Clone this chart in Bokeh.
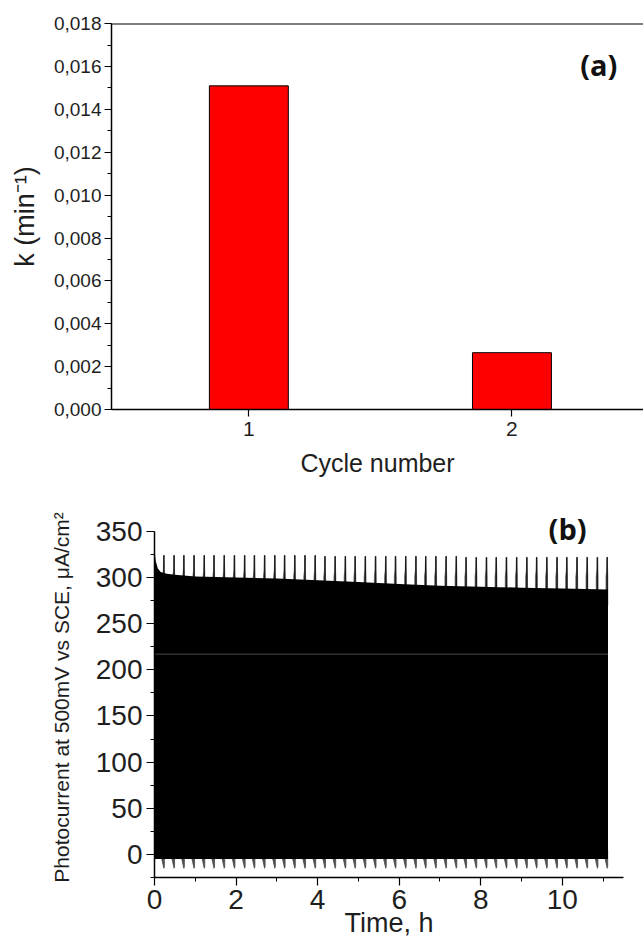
import numpy as np
from bokeh.plotting import figure
from bokeh.layouts import column, row
from bokeh.models import (SingleIntervalTicker, FixedTicker,
                          CustomJSTickFormatter, Span, Label, Range1d)
from bokeh.embed import file_html
from bokeh.resources import INLINE

# ---------------- data: panel (a) ----------------
cycles = [1, 2]
k_values = [0.0151, 0.00265]
a_y_max = 0.018

# ---------------- data: panel (b) ----------------
env_t = [0.0, 0.03, 0.08, 0.15, 0.3, 0.5, 1.0, 2.0, 3.0, 4.0, 5.0, 6.0, 7.0, 8.0, 9.0, 10.0, 11.12]
env_top = [330, 318, 310, 306, 304, 303, 301, 300, 299, 297, 295, 293, 291, 290, 289, 288, 287]
env_bottom = [-5, -5, -5, -5, -5, -5, -5, -5, -5, -5, -5, -5, -5, -5, -5, -5, -5]
spike_t = [0.23, 0.48, 0.72, 0.97, 1.22, 1.46, 1.71, 1.96, 2.21, 2.45, 2.70, 2.95,
           3.19, 3.44, 3.69, 3.94, 4.18, 4.43, 4.68, 4.92, 5.17, 5.42, 5.67, 5.91,
           6.16, 6.41, 6.65, 6.90, 7.15, 7.40, 7.64, 7.89, 8.14, 8.38, 8.63, 8.88,
           9.13, 9.37, 9.62, 9.87, 10.11, 10.36, 10.61, 10.86, 11.10]
spike_peak = [324, 324, 324, 324, 324, 324, 324, 324, 324, 324, 324, 324,
              324, 324, 324, 324, 323, 323, 323, 323, 323, 323, 323, 323,
              323, 323, 323, 323, 323, 323, 322, 322, 322, 322, 322, 322,
              322, 322, 322, 322, 322, 322, 322, 322, 322]
tooth_depth = [-15] * 45
artifact_t = [0.0, 11.12]
artifact_y = [217, 217]

FONT = "Liberation Sans"

# ================= panel (a) =================
pa = figure(width=643, height=480, output_backend="svg", toolbar_location=None,
            x_range=Range1d(0.478, 2.5), y_range=Range1d(0, a_y_max * 1.0005),
            frame_width=532, frame_height=386,
            min_border_left=111, min_border_right=0, min_border_top=23,
            min_border_bottom=71)
pa.outline_line_color = None
pa.xgrid.visible = False
pa.ygrid.visible = False
pa.background_fill_color = "white"
pa.border_fill_color = "white"

pa.vbar(x=cycles, top=k_values, width=0.3, bottom=0,
        fill_color="#ff0000", line_color="black", line_width=1)

pa.add_layout(Span(location=a_y_max, dimension="width", line_color="black", line_width=1.5))

pa.yaxis.ticker = SingleIntervalTicker(interval=0.002, num_minor_ticks=2)
pa.yaxis.formatter = CustomJSTickFormatter(code="return tick.toFixed(3).replace('.', ',');")
pa.xaxis.ticker = FixedTicker(ticks=cycles)
for ax in (pa.xaxis[0], pa.yaxis[0]):
    ax.axis_line_width = 1.5
    ax.major_tick_in = 0
    ax.major_tick_out = 7
    ax.minor_tick_in = 0
    ax.minor_tick_out = 4
    ax.major_tick_line_width = 1.2
    ax.major_label_text_font = FONT
    ax.axis_label_text_font = FONT
    ax.axis_label_text_font_style = "normal"
    ax.major_label_text_color = "#1e1e1e"
    ax.axis_label_text_color = "#1e1e1e"
pa.xaxis.minor_tick_out = 0
pa.yaxis.major_label_text_font_size = "19px"
pa.xaxis.major_label_text_font_size = "21px"
pa.yaxis.axis_label = "k (min⁻¹)"
pa.xaxis.axis_label = "Cycle number"
pa.yaxis.axis_label_text_font_size = "27px"
pa.xaxis.axis_label_text_font_size = "25px"
pa.yaxis.major_label_standoff = 3
pa.yaxis.axis_label_standoff = 11
pa.xaxis.major_label_standoff = 5
pa.xaxis.axis_label_standoff = 10

pa.add_layout(Label(x=2.33, y=0.0161, text="(a)", text_font="Open Sans",
                    text_font_style="bold", text_font_size="29px",
                    text_align="center", text_baseline="middle", text_color="#111111"))

# ================= panel (b) =================
b_y_axis_end = 350
pb = figure(width=643, height=459, output_backend="svg", toolbar_location=None,
            x_range=Range1d(0, 11.5), y_range=Range1d(-25, 365),
            frame_width=469, frame_height=360,
            min_border_left=154, min_border_right=20, min_border_top=37,
            min_border_bottom=62)
pb.outline_line_color = None
pb.xgrid.visible = False
pb.ygrid.visible = False
pb.background_fill_color = "white"
pb.border_fill_color = "white"

# top spikes (drawn first; their lower part is covered by the black band)
sxs, sys_ = [], []
for t, pk in zip(spike_t, spike_peak):
    sxs.append([t - 0.03, t - 0.03, t - 0.012, t - 0.003, t + 0.004, t + 0.01, t + 0.016, t + 0.016])
    sys_.append([270, 301, 308, pk, pk, 309, 300, 270])
pb.patches(xs=sxs, ys=sys_, fill_color="#5a5a5a", line_color="#4a4a4a", line_width=0.6)
pb.segment(x0=spike_t, y0=[280] * len(spike_t), x1=spike_t, y1=spike_peak,
           line_color="#1a1a1a", line_width=1.4)

# bottom teeth
txs, tys = [], []
for t, d in zip(spike_t, tooth_depth):
    txs.append([t - 0.11, t - 0.04, t, t + 0.012, t + 0.012])
    tys.append([5, -7, d, d + 2, 5])
pb.patches(xs=txs, ys=tys, fill_color="#555555", line_color="#444444", line_width=0.8)

# black band of fast chopped photocurrent
pb.varea(x=env_t, y1=env_bottom, y2=env_top, fill_color="black")
pb.line(x=artifact_t, y=artifact_y, line_color="#4a4a4a", line_width=1)

pb.yaxis.ticker = SingleIntervalTicker(interval=50, num_minor_ticks=2)
pb.xaxis.ticker = SingleIntervalTicker(interval=2, num_minor_ticks=2)
pb.yaxis.bounds = (-25, b_y_axis_end)
for ax in (pb.xaxis[0], pb.yaxis[0]):
    ax.axis_line_width = 1.5
    ax.major_tick_in = 0
    ax.major_tick_out = 8
    ax.minor_tick_in = 0
    ax.minor_tick_out = 4
    ax.major_tick_line_width = 1.2
    ax.major_label_text_font = FONT
    ax.axis_label_text_font = FONT
    ax.axis_label_text_font_style = "normal"
    ax.major_label_text_color = "#1e1e1e"
    ax.axis_label_text_color = "#1e1e1e"
    ax.major_label_text_font_size = "28px"
pb.yaxis.major_label_standoff = 4
pb.xaxis.major_label_standoff = 4
pb.yaxis.axis_label = "Photocurrent at 500mV vs SCE, μA/cm²"
pb.xaxis.axis_label = "Time, h"
pb.yaxis.axis_label_text_font_size = "21px"
pb.xaxis.axis_label_text_font_size = "27px"
pb.yaxis.axis_label_standoff = 20
pb.xaxis.axis_label_standoff = -4

pb.add_layout(Label(x=10.13, y=353, text="(b)", text_font="Open Sans",
                    text_font_style="bold", text_font_size="29px",
                    text_align="center", text_baseline="middle", text_color="#111111"))

layout = column(row(pa), row(pb), spacing=0)
open("out.html", "w").write(file_html(layout, INLINE))
